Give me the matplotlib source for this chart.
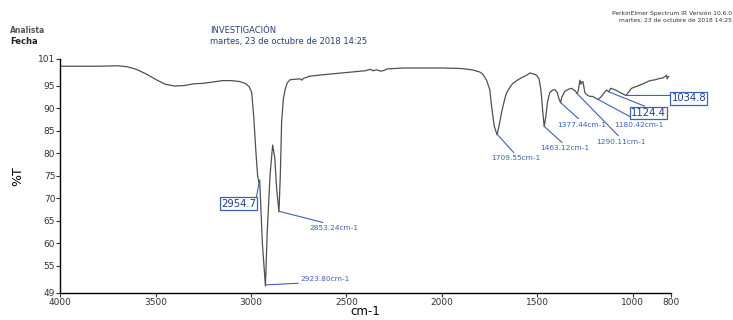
import matplotlib.pyplot as plt
import numpy as np

# IR spectrum (wavenumber cm-1, %T)
WAVENUMBER = [4000, 3900, 3800, 3700, 3650, 3600, 3550, 3500, 3450, 3400,
              3350, 3300, 3250, 3200, 3150, 3100, 3060, 3030, 3010, 2996,
              2985, 2975, 2965, 2958, 2954, 2950, 2940, 2924, 2915, 2900,
              2886, 2875, 2865, 2853, 2846, 2839, 2830, 2821, 2810, 2795,
              2770, 2743, 2733, 2725, 2690, 2600, 2500, 2400, 2375, 2360,
              2340, 2320, 2300, 2287, 2200, 2100, 2000, 1900, 1840, 1800,
              1784, 1765, 1748, 1739, 1725, 1710, 1700, 1686, 1670, 1660,
              1640, 1627, 1600, 1575, 1555, 1538, 1520, 1503, 1490, 1480,
              1470, 1463, 1455, 1445, 1434, 1420, 1407, 1395, 1385, 1377,
              1370, 1355, 1335, 1320, 1300, 1290, 1284, 1276, 1270, 1265,
              1260, 1250, 1241, 1224, 1210, 1197, 1180, 1165, 1145, 1135,
              1124, 1115, 1093, 1075, 1058, 1035, 1020, 1005, 980, 962,
              940, 909, 880, 857, 840, 822, 818, 815, 810]
TRANSMITTANCE = [99.3, 99.3, 99.3, 99.4, 99.2, 98.6, 97.6, 96.4, 95.3, 94.9,
                 95.0, 95.4, 95.5, 95.8, 96.1, 96.1, 95.9, 95.5, 94.8, 93.5,
                 88.0, 81.0, 75.0, 73.5, 74.0, 70.0, 60.0, 50.5, 62.0, 75.0,
                 81.8, 79.0, 72.0, 67.0, 75.0, 87.0, 92.0, 94.1, 95.6, 96.3,
                 96.4, 96.5, 96.2, 96.6, 97.1, 97.5, 97.9, 98.3, 98.6, 98.3,
                 98.5, 98.2, 98.4, 98.7, 98.9, 98.9, 98.9, 98.8, 98.5, 98.0,
                 97.5, 96.2, 94.1, 90.5, 86.0, 84.1, 86.0, 89.1, 92.0, 93.4,
                 94.8, 95.5, 96.3, 96.9, 97.3, 97.8, 97.6, 97.3, 96.5, 94.0,
                 89.0, 85.9, 88.0, 91.5, 93.4, 94.0, 94.1, 93.5, 92.0, 91.2,
                 92.5, 93.7, 94.2, 94.4, 93.8, 93.2, 94.0, 96.2, 95.3, 95.8,
                 95.9, 93.5, 93.0, 92.6, 92.6, 92.3, 91.9, 92.5, 93.6, 94.0,
                 93.6, 94.4, 94.1, 93.7, 93.3, 92.8, 93.6, 94.4, 94.8, 95.1,
                 95.5, 96.1, 96.3, 96.6, 96.7, 97.3, 96.5, 96.9, 97.0]

# peak labels
PEAKS = [2954.7, 2923.80, 2853.24, 1709.55, 1463.12, 1377.44, 1290.11, 1180.42, 1124.4, 1034.8]
PEAK_TEXT = ['2954.7', '2923.80cm-1', '2853.24cm-1', '1709.55cm-1', '1463.12cm-1',
             '1377.44cm-1', '1290.11cm-1', '1180.42cm-1', '1124.4', '1034.8']
BOXED = [True, False, False, False, False, False, False, False, True, True]

X_TICKS = [4000, 3500, 3000, 2500, 2000, 1500, 1000, 800]
Y_TICKS = [49, 55, 60, 65, 70, 75, 80, 85, 90, 95, 101]

BLUE = '#3a63b8'
# text offset in pixels and where the leader line meets the label
OFFSETS = [(-21, -23), (60, 6), (55, -17), (19, -24), (21, -22),
           (21, -22), (44, -48), (41, -25), (40, -21), (63, -3)]
RELPOS = [(1, 1), (0.5, 0), (0.5, 1), (0.5, 1), (0.5, 1),
          (0.5, 1), (0.5, 1), (0.5, 1), (0.5, 1), (0, 0.8)]


def main():
    fig = plt.figure(figsize=(7.33, 3.2), dpi=100)
    ax = fig.add_axes([0.082, 0.085, 0.833, 0.732])

    ax.plot(WAVENUMBER, TRANSMITTANCE, color='#505050', lw=0.9)

    wn_asc = np.array(WAVENUMBER[::-1], dtype=float)
    t_asc = np.array(TRANSMITTANCE[::-1], dtype=float)
    for i, pk in enumerate(PEAKS):
        ty = np.interp(pk, wn_asc, t_asc)
        if BOXED[i]:
            kw = dict(fontsize=7.2, color='#1f3f8f',
                      bbox=dict(boxstyle='square,pad=0.12', fc='white', ec=BLUE, lw=0.9))
        else:
            kw = dict(fontsize=5.3, color=BLUE)
        ax.annotate(PEAK_TEXT[i], xy=(pk, ty), xytext=OFFSETS[i], textcoords='offset pixels',
                    ha='center', va='center',
                    arrowprops=dict(arrowstyle='-', color=BLUE, lw=0.8,
                                    relpos=RELPOS[i], shrinkA=0, shrinkB=0),
                    **kw)

    ax.set_xlim(4000, 800)
    ax.set_ylim(49, 101)
    ax.set_xticks(X_TICKS)
    ax.set_yticks(Y_TICKS)
    ax.tick_params(labelsize=6.5, length=3, width=0.8, colors='#333333', pad=0.5)
    for s in ['top', 'right']:
        ax.spines[s].set_visible(False)
    for s in ['left', 'bottom']:
        ax.spines[s].set_linewidth(1)
    ax.set_xlabel('cm-1', fontsize=8.5, labelpad=-1.5)
    ax.set_ylabel('%T', fontsize=9, labelpad=10)

    fig.text(0.014, 0.905, 'Analista', fontsize=5.5, color='#555555', weight='bold', va='center')
    fig.text(0.014, 0.87, 'Fecha', fontsize=6, color='#222222', weight='bold', va='center')
    fig.text(0.287, 0.905, 'INVESTIGACIÓN', fontsize=6, color='#2a3f7a', va='center')
    fig.text(0.287, 0.87, 'martes, 23 de octubre de 2018 14:25', fontsize=6, color='#2a3f7a', va='center')
    fig.text(0.998, 0.96, 'PerkinElmer Spectrum IR Versión 10.6.0', fontsize=4.3,
             color='#333333', ha='right', va='center')
    fig.text(0.998, 0.937, 'martes, 23 de octubre de 2018 14:25', fontsize=4.3,
             color='#333333', ha='right', va='center')

    fig.savefig('out.png', dpi=100)


if __name__ == '__main__':
    main()
